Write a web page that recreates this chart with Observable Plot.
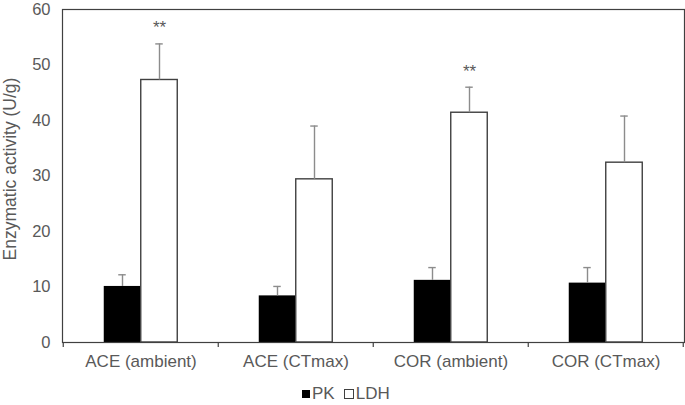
<!DOCTYPE html>
<html>
<head>
<meta charset="utf-8">
<script src="https://cdn.jsdelivr.net/npm/d3@7"></script>
<script src="https://cdn.jsdelivr.net/npm/@observablehq/plot@0.6"></script>
<style>
  html, body { margin: 0; padding: 0; background: #fff; }
  #wrap { width: 685px; height: 405px; position: relative; font-family: "Liberation Sans", Arial, sans-serif; color: #595959; }
  #legend { position: relative; height: 33px; font-size: 17px; }
  #legend .items { position: absolute; left: 302px; top: 13px; display: flex; align-items: center; line-height: 17px; font-size: 17px; }
  .sw { display: inline-block; width: 8px; height: 8px; box-sizing: border-box; margin-right: 2px; }
  .sw.pk { background: #000; }
  .sw.ldh { background: #fff; border: 1.5px solid #404040; width: 10px; height: 10px; margin-left: 9px; }
</style>
</head>
<body>
<div id="wrap"><div id="chart"></div><div id="legend"><div class="items"><span class="sw pk"></span><span>PK</span><span class="sw ldh"></span><span>LDH</span></div></div></div>
<script>
const categories = ["ACE (ambient)", "ACE (CTmax)", "COR (ambient)", "COR (CTmax)"];
const pk = [10.1, 8.4, 11.2, 10.7];
const pkErr = [2.1, 1.7, 2.3, 2.8];
const ldh = [47.3, 29.4, 41.4, 32.4];
const ldhErr = [6.5, 9.6, 4.6, 8.4];
const signif = ["**", "", "**", ""];
const yTicks = [0, 10, 20, 30, 40, 50, 60];
const yLabel = "Enzymatic activity (U/g)";

const rows = categories.map((c, i) => ({cat: c, pk: pk[i], pkErr: pkErr[i], ldh: ldh[i], ldhErr: ldhErr[i], sig: signif[i]}));

const W = 685, H = 372, ML = 62, MR = 1, MT = 9, MB = 30;
const band = (W - ML - MR) / categories.length;
const barW = 37;
const side = band / 2 - barW;
const capW = 8;
const grey = "#8c8c8c";

const chart = Plot.plot({
  width: W,
  height: H,
  marginLeft: ML,
  marginRight: MR,
  marginTop: MT,
  marginBottom: MB,
  style: {fontFamily: "'Liberation Sans', Arial, sans-serif", fontSize: "16px", color: "#595959", background: "#fff"},
  x: {domain: categories, padding: 0},
  y: {domain: [0, 60]},
  marks: [
    Plot.barY(rows, {x: "cat", y: "pk", fill: "#000", insetLeft: side, insetRight: band / 2}),
    Plot.barY(rows, {x: "cat", y: "ldh", fill: "#fff", stroke: "#404040", strokeWidth: 1.4, insetLeft: band / 2, insetRight: side}),
    Plot.ruleX(rows, {x: "cat", y1: "pk", y2: d => d.pk + d.pkErr, dx: -barW / 2, stroke: grey, strokeWidth: 1.4}),
    Plot.ruleX(rows, {x: "cat", y1: "ldh", y2: d => d.ldh + d.ldhErr, dx: barW / 2, stroke: grey, strokeWidth: 1.4}),
    Plot.tickY(rows, {x: "cat", y: d => d.pk + d.pkErr, stroke: grey, strokeWidth: 1.4,
      insetLeft: side + barW / 2 - capW / 2, insetRight: band / 2 + barW / 2 - capW / 2}),
    Plot.tickY(rows, {x: "cat", y: d => d.ldh + d.ldhErr, stroke: grey, strokeWidth: 1.4,
      insetLeft: band / 2 + barW / 2 - capW / 2, insetRight: side + barW / 2 - capW / 2}),
    Plot.text(rows, {x: "cat", y: d => d.ldh + d.ldhErr, text: "sig", dx: barW / 2, dy: -16, fill: "#595959", fontSize: 17, style: "letter-spacing:2px"}),
    Plot.frame({stroke: "#404040", strokeWidth: 1.2}),
    Plot.ruleX(categories, {x: d => d, dx: -band / 2, insetTop: H - MT - MB, insetBottom: -5, stroke: "#404040", strokeWidth: 1.2}),
    Plot.ruleX(categories.slice(-1), {x: d => d, dx: band / 2 - 0.5, insetTop: H - MT - MB, insetBottom: -5, stroke: "#404040", strokeWidth: 1.2}),
    Plot.axisX({tickSize: 0, tickPadding: 12, label: null, fontSize: 17}),
    Plot.axisY({ticks: yTicks, tickSize: 0, tickPadding: 12, label: null, fontSize: 16.5}),
    Plot.text([yLabel], {text: d => d, frameAnchor: "left", textAnchor: "middle", rotate: -90, dx: -52, dy: -7, fontSize: 17.5, fill: "#595959"})
  ]
});
document.getElementById("chart").appendChild(chart);
</script>
</body>
</html>
